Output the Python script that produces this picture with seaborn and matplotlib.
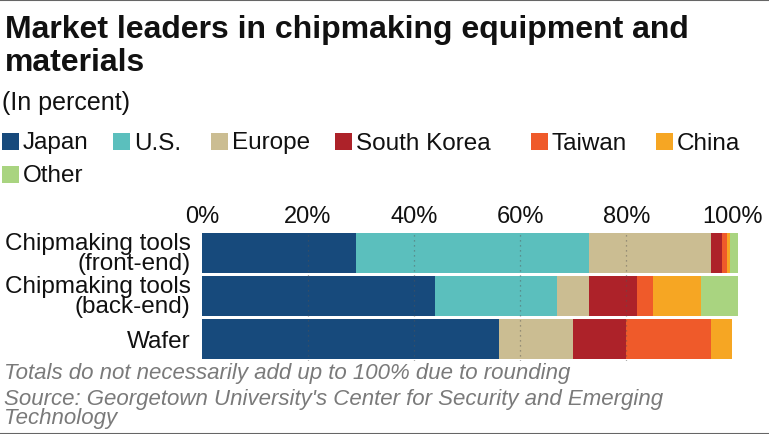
import matplotlib
matplotlib.use("Agg")
import matplotlib.pyplot as plt
from matplotlib import font_manager
from matplotlib.patches import Rectangle
import seaborn as sns
import pandas as pd
import numpy as np

categories = ["Chipmaking tools\n(front-end)", "Chipmaking tools\n(back-end)", "Wafer"]
countries = ["Japan", "U.S.", "Europe", "South Korea", "Taiwan", "China", "Other"]
japan = [29, 44, 56]
us = [44, 23, 0]
europe = [23, 6, 14]
south_korea = [2, 9, 10]
taiwan = [1, 3, 16]
china = [0.5, 9, 4]
other = [1.5, 7, 0]
tick_values = [0, 20, 40, 60, 80, 100]
tick_labels = ["0%", "20%", "40%", "60%", "80%", "100%"]
colors = ["#174a7c", "#5bbfbd", "#cbbd92", "#ad2229", "#ef5a2a", "#f6a623", "#a9d480"]

series = [japan, us, europe, south_korea, taiwan, china, other]

sns.set_theme(style="white")
names = {f.name for f in font_manager.fontManager.ttflist}
narrow = "Liberation Sans Narrow" if "Liberation Sans Narrow" in names else "Liberation Sans"
plt.rcParams["font.family"] = ["Liberation Sans", "DejaVu Sans"]

fig = plt.figure(figsize=(7.69, 4.34), dpi=100)
ax = fig.add_axes([201.8 / 769, 1 - 361 / 434, 536 / 769, 130 / 434])

rows = []
for cat_i, cat in enumerate(categories):
    for ci, c in enumerate(countries):
        rows.append({"category": cat, "country": c, "value": series[ci][cat_i]})
df = pd.DataFrame(rows)

left = np.zeros(len(categories))
for ci, c in enumerate(countries):
    sub = df[df["country"] == c]
    vals = sub["value"].to_numpy()
    ax.barh(np.arange(len(categories)), vals, left=left, height=0.93,
            color=colors[ci], edgecolor="none", zorder=1)
    left = left + vals

ax.set_xlim(0, 101)
ax.set_ylim(2.5, -0.5)
ax.set_yticks(range(len(categories)))
ax.set_yticklabels(categories, fontsize=17.5, linespacing=0.88, color="#111111")
ax.set_xticks(tick_values)
ax.set_xticklabels(tick_labels, fontsize=17, color="#111111")
ax.xaxis.tick_top()
ax.tick_params(axis="both", length=0)
ax.tick_params(axis="x", pad=2)
ax.tick_params(axis="y", pad=8)
for s in ax.spines.values():
    s.set_visible(False)
ax.grid(False)
for v in tick_values[1:-1]:
    ax.axvline(v, color="#555555", linestyle=(0, (1, 3)), linewidth=0.9, alpha=0.6, zorder=3)

# Title
fig.text(5 / 769, 1 - 15 / 434, "Market leaders in chipmaking equipment and\nmaterials",
         fontsize=23, fontweight="bold", family=[narrow, "DejaVu Sans"],
         va="top", ha="left", linespacing=1.15, color="#111111")
fig.text(2 / 769, 1 - 103 / 434, "(In percent)", fontsize=18, va="center", ha="left", color="#111111")

# Legend
leg_pos = [(2, 141), (113, 141), (211, 141), (335, 141), (531, 141), (656, 141), (2, 174)]
for (lx, ly), c, col in zip(leg_pos, countries, colors):
    fig.add_artist(Rectangle((lx / 769, 1 - (ly + 8.5) / 434), 16.5 / 769, 17 / 434,
                             transform=fig.transFigure, color=col, lw=0))
    fig.text((lx + 21) / 769, 1 - ly / 434, c, fontsize=17.5, va="center_baseline", ha="left", color="#111111")

# Footnotes
fig.text(4 / 769, 1 - 373 / 434, "Totals do not necessarily add up to 100% due to rounding",
         fontsize=16, style="italic", family=[narrow, "DejaVu Sans"], color="#7a7a7a", va="center", ha="left")
fig.text(4 / 769, 1 - 409 / 434, "Source: Georgetown University's Center for Security and Emerging\nTechnology",
         fontsize=16, style="italic", family=[narrow, "DejaVu Sans"], color="#7a7a7a", va="center", ha="left",
         linespacing=0.92)

# border lines
fig.add_artist(plt.Line2D([0, 1], [0.999, 0.999], transform=fig.transFigure, color="#666666", lw=1.5))
fig.add_artist(plt.Line2D([0, 1], [0.001, 0.001], transform=fig.transFigure, color="#666666", lw=1.5))

fig.savefig("out.png", dpi=100)
